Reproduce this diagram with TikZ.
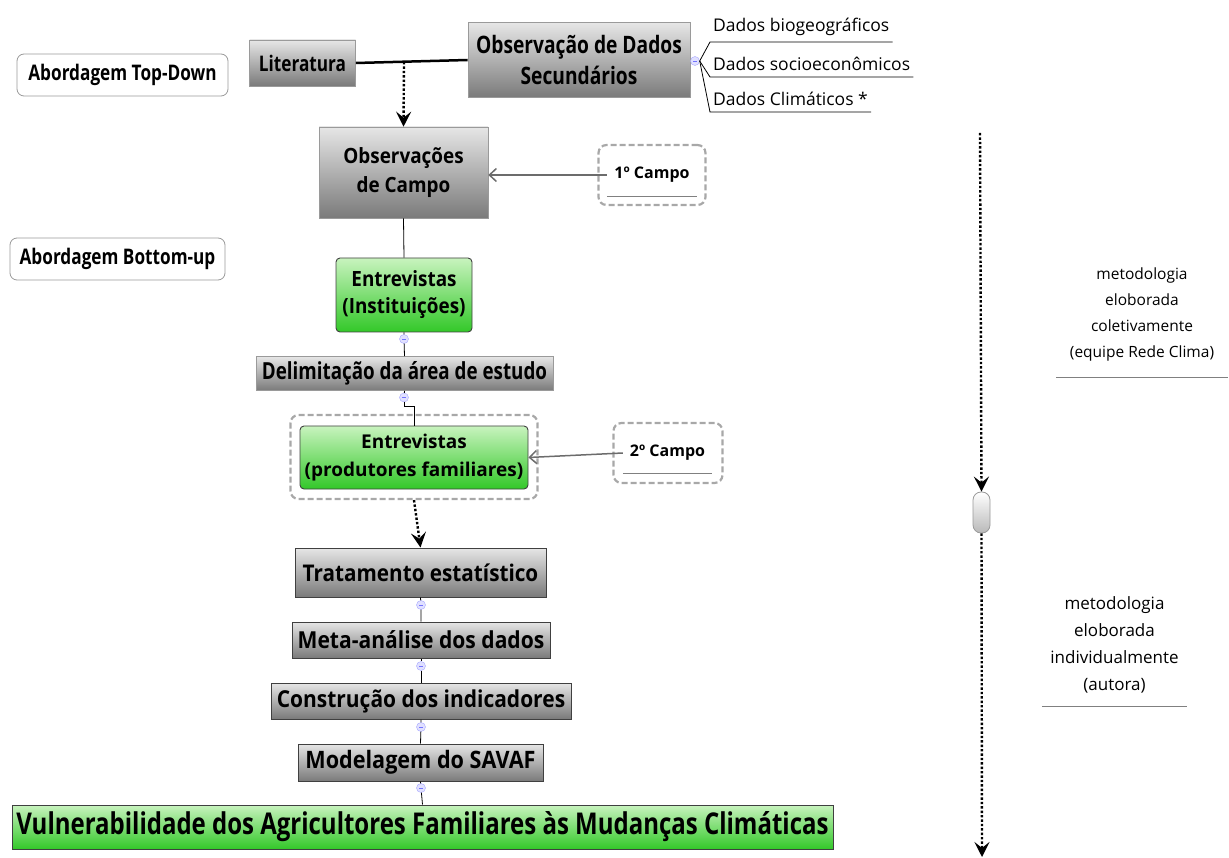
\documentclass[tikz,border=0pt]{standalone}
\usepackage{fontspec}
\setmainfont{Open Sans}
\newfontfamily\bfA{Open Sans}[FakeStretch=0.8]
\newfontfamily\bfB{Open Sans}[FakeStretch=0.9]
\newfontfamily\bfC{Open Sans}[FakeStretch=1.0]
\usetikzlibrary{arrows.meta,calc}
\definecolor{gtop}{HTML}{E6E6E6}
\definecolor{gbot}{HTML}{7A7A7A}
\definecolor{grtop}{HTML}{C8F3BE}
\definecolor{grbot}{HTML}{33C829}
\definecolor{edge}{HTML}{9A9A9A}
\definecolor{dashgray}{HTML}{A8A8A8}
\tikzset{
  lblA/.style={font=\bfA\bfseries\fontsize{#1}{#1}\selectfont},
  lblB/.style={font=\bfB\bfseries\fontsize{#1}{#1}\selectfont},
  lblC/.style={font=\bfC\bfseries\fontsize{#1}{#1}\selectfont},
  approach/.style={draw=edge, fill=white, rounded corners=7pt, line width=0.8pt, inner sep=0pt},
  graybox/.style={top color=gtop, bottom color=gbot, draw=edge, line width=0.6pt, inner sep=0pt, align=center},
  grayboxdark/.style={top color=gtop, bottom color=gbot, draw=black!75, line width=1pt, inner sep=0pt, align=center},
  greenbox/.style={top color=grtop, bottom color=grbot, draw=black!75, line width=0.9pt, rounded corners=4pt, inner sep=0pt, align=center},
  boundary/.style={draw=dashgray, line width=2.2pt, dash pattern=on 6pt off 3pt, rounded corners=8pt, inner sep=0pt},
  marker/.style={circle, draw=blue!35, fill=blue!12, inner sep=0pt, minimum size=9pt,
    path picture={\draw[blue!55, line width=0.6pt] ([xshift=-2pt]path picture bounding box.center) -- ([xshift=2pt]path picture bounding box.center);}},
  link/.style={draw=black, line width=0.8pt},
  dotarrow/.style={draw=black, line width=2.4pt, dash pattern=on 2.4pt off 2pt, -{Stealth[length=15pt,width=15pt,inset=6pt]}},
  grayarrow/.style={draw=gray!85!black, line width=1.5pt, -{Straight Barb[length=7pt,width=13pt]}},
  plain/.style={font=\fontsize{#1}{#1}\selectfont, inner sep=0pt},
  capsule/.style={top color=white, bottom color=gray!55, draw=gray!80, line width=0.8pt, rounded corners=8pt, minimum width=17pt, minimum height=41pt, inner sep=0pt}
}
\begin{document}
\begin{tikzpicture}[x=1pt,y=-1pt]
\useasboundingbox (0,0) rectangle (1229,858);

% approach labels on the left
\node[approach, lblA=21.5, minimum width=211pt, minimum height=42pt] (topdown) at (122.5,75) {Abordagem Top-Down};
\node[approach, lblA=21.5, minimum width=215pt, minimum height=42pt] (bottomup) at (117.5,259) {Abordagem Bottom-up};

% top row
\node[graybox, lblA=21.5, minimum width=106pt, minimum height=46pt] (lit) at (302.5,63) {Literatura};
\node[graybox, minimum width=222pt, minimum height=75pt, font=\bfA\bfseries\fontsize{24}{31}\selectfont] (obsdados) at (579,60) {Observação de Dados\\Secundários};
\draw[line width=2.5pt] (lit.east) -- (obsdados.west);
\coordinate (litjoin) at (404,62);

% secondary data branches
\node[marker] (m0) at (695,61) {};
\node[plain=17.5, anchor=south west, inner xsep=3pt, inner ysep=6pt] (d1) at (710,42) {Dados biogeográficos};
\node[plain=17.5, anchor=south west, inner xsep=3pt, inner ysep=6pt] (d2) at (710,77) {Dados socioeconômicos};
\node[plain=17.5, anchor=south west, inner xsep=3pt, inner ysep=6pt] (d3) at (710,112) {Dados Climáticos *};
\draw[link] (m0.east) -- (d1.south west) -- (d1.south east);
\draw[link] (m0.east) -- (d2.south west) -- (d2.south east);
\draw[link] (m0.east) -- (d3.south west) -- (d3.south east);

% field observations
\node[graybox, minimum width=169pt, minimum height=91pt, font=\bfB\bfseries\fontsize{21}{29}\selectfont] (obscampo) at (403.5,172.5) {Observações\\de Campo};
\draw[dotarrow] (litjoin) -- (obscampo.north);

\node[lblC=16, inner sep=0pt, minimum width=90pt, minimum height=42pt] (campo1) at (652,175) {1º Campo};
\node[boundary, minimum width=107pt, minimum height=60pt] (campo1b) at (652,175) {};
\draw[gray, line width=0.8pt] (campo1.south west) -- (campo1.south east);
\draw[grayarrow] (campo1.west) -- (obscampo.east |- campo1.west);

% interviews with institutions
\node[greenbox, minimum width=136pt, minimum height=74pt, font=\bfB\bfseries\fontsize{21}{27}\selectfont] (entinst) at (404,295) {Entrevistas\\(Instituições)};
\draw[link] (obscampo.south) -- (entinst.north);
\node[marker] (m1) at (404,339) {};

\node[graybox, lblA=23.5, minimum width=297pt, minimum height=34pt] (delim) at (404.5,373.5) {Delimitação da área de estudo};
\draw[link] (entinst.south) -- (m1) -- (delim.north);
\node[marker] (m2) at (404,397.5) {};

% interviews with family farmers
\node[boundary, minimum width=247pt, minimum height=84pt] (entprodb) at (414,457) {};
\node[greenbox, minimum width=228pt, minimum height=63pt, font=\bfC\bfseries\fontsize{19}{28}\selectfont] (entprod) at (414,457.5) {Entrevistas\\(produtores familiares)};
\draw[link] (delim.south) -- (m2);
\draw[link] (m2.south) -- ++(0,4) -| (entprod.north);

\node[lblC=16, inner sep=0pt, minimum width=89pt, minimum height=40pt] (campo2) at (667.5,453) {2º Campo};
\node[boundary, minimum width=109pt, minimum height=60pt] (campo2b) at (668,453) {};
\draw[gray, line width=0.8pt] (campo2.south west) -- (campo2.south east);
\draw[grayarrow] (campo2.west) -- (entprod.east);

% analysis chain
\node[grayboxdark, lblB=23, minimum width=251pt, minimum height=49pt] (trat) at (420.5,572.5) {Tratamento estatístico};
\draw[dotarrow] (entprodb.south) -- (trat.north);
\node[marker] (m3) at (421,605) {};
\node[grayboxdark, lblB=23.4, minimum width=258pt, minimum height=36pt] (meta) at (421,640) {Meta-análise dos dados};
\node[marker] (m4) at (421,666) {};
\node[grayboxdark, lblB=23.3, minimum width=300pt, minimum height=36pt] (constr) at (421,701) {Construção dos indicadores};
\node[marker] (m5) at (421,727) {};
\node[grayboxdark, lblB=24, minimum width=245pt, minimum height=37pt] (model) at (420.5,762.5) {Modelagem do SAVAF};
\node[marker] (m6) at (421,788) {};
\node[top color=grtop, bottom color=grbot, draw=black!75, line width=1pt, inner sep=0pt, lblA=30, minimum width=821pt, minimum height=44pt] (vuln) at (422.5,827) {Vulnerabilidade dos Agricultores Familiares às Mudanças Climáticas};
\draw[link] (trat.south) -- (m3) -- (meta.north);
\draw[link] (meta.south) -- (m4) -- (constr.north);
\draw[link] (constr.south) -- (m5) -- (model.north);
\draw[link] (model.south) -- (m6) -- (vuln.north);

% timeline on the right
\node[capsule] (cap) at (981.5,512.5) {};
\coordinate (rtop) at (980,133);
\coordinate (rbot) at (982,857);
\draw[dotarrow] (rtop) -- (cap.north);
\draw[dotarrow] (cap.south) -- (rbot);

\node[font=\fontsize{15.5}{26.3}\selectfont, inner sep=0pt, align=center, minimum width=171pt, minimum height=125pt] (t1) at (1142,314.5) {metodologia\\eloborada\\coletivamente\\(equipe Rede Clima)};
\draw[gray, line width=0.8pt] (t1.south west) -- (t1.south east);
\node[font=\fontsize{17}{27}\selectfont, inner sep=0pt, align=center, minimum width=145pt, minimum height=123pt] (t2) at (1114.5,644.5) {metodologia\\eloborada\\individualmente\\(autora)};
\draw[gray, line width=0.8pt] (t2.south west) -- (t2.south east);
\end{tikzpicture}
\end{document}
